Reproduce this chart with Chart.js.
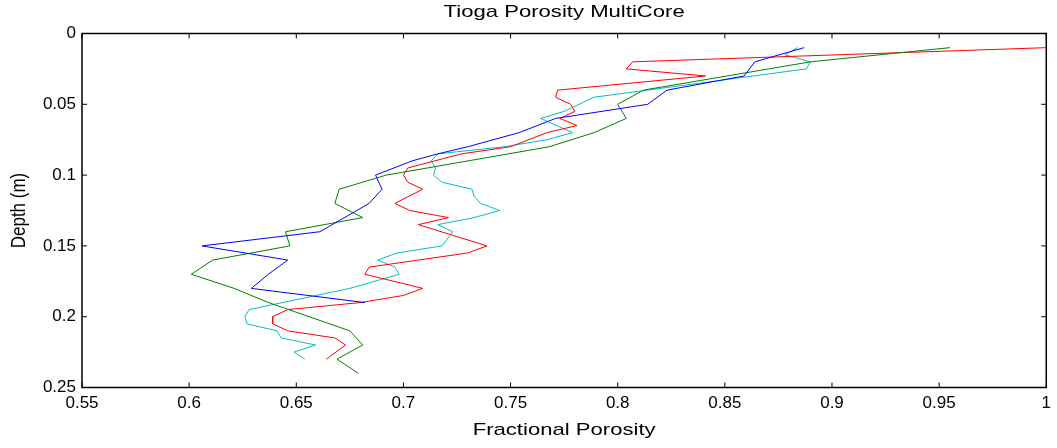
<!DOCTYPE html>
<html>
<head>
<meta charset="utf-8">
<title>Tioga Porosity MultiCore</title>
<script src="https://cdn.jsdelivr.net/npm/chart.js@4/dist/chart.umd.min.js"></script>
<style>
  html, body { margin: 0; padding: 0; background: #fff; }
</style>
</head>
<body>
<canvas id="myChart" width="1057" height="448"></canvas>
<script>
// porosity profiles for each core, depth in metres
const blueDepth = [0.01, 0.02, 0.03, 0.04, 0.05, 0.06, 0.07, 0.08, 0.085, 0.09, 0.1, 0.11, 0.12, 0.14, 0.15, 0.16, 0.17, 0.18, 0.19];
const bluePorosity = [0.887, 0.864, 0.859, 0.823, 0.814, 0.771, 0.754, 0.730, 0.716, 0.704, 0.687, 0.690, 0.684, 0.661, 0.606, 0.646, 0.637, 0.629, 0.682];

const greenDepth = [0.01, 0.02, 0.04, 0.05, 0.06, 0.07, 0.08, 0.1, 0.11, 0.12, 0.13, 0.14, 0.15, 0.16, 0.17, 0.18, 0.19, 0.21, 0.22, 0.23, 0.24];
const greenPorosity = [0.955, 0.890, 0.812, 0.800, 0.804, 0.789, 0.768, 0.692, 0.670, 0.668, 0.681, 0.645, 0.647, 0.611, 0.601, 0.621, 0.637, 0.675, 0.681, 0.669, 0.679];

const redDepth = [0.01, 0.02, 0.025, 0.03, 0.04, 0.045, 0.05, 0.055, 0.06, 0.065, 0.07, 0.08, 0.085, 0.095, 0.1, 0.105, 0.11, 0.12, 0.125, 0.13, 0.135, 0.15, 0.155, 0.165, 0.17, 0.18, 0.185, 0.19, 0.195, 0.2, 0.205, 0.21, 0.215, 0.22, 0.23];
const redPorosity = [1.0, 0.807, 0.804, 0.841, 0.772, 0.771, 0.778, 0.780, 0.773, 0.781, 0.767, 0.750, 0.727, 0.702, 0.700, 0.702, 0.709, 0.696, 0.703, 0.721, 0.707, 0.739, 0.730, 0.684, 0.682, 0.709, 0.700, 0.680, 0.646, 0.639, 0.639, 0.646, 0.668, 0.673, 0.664];

const cyanDepth = [0.01, 0.015, 0.02, 0.025, 0.045, 0.055, 0.06, 0.07, 0.075, 0.08, 0.085, 0.09, 0.095, 0.1, 0.105, 0.11, 0.115, 0.12, 0.125, 0.13, 0.135, 0.14, 0.15, 0.155, 0.16, 0.165, 0.17, 0.18, 0.195, 0.2, 0.205, 0.21, 0.215, 0.22, 0.225, 0.23];
const cyanPorosity = [0.884, 0.878, 0.890, 0.888, 0.789, 0.775, 0.764, 0.779, 0.767, 0.747, 0.716, 0.713, 0.715, 0.714, 0.718, 0.732, 0.733, 0.736, 0.745, 0.733, 0.716, 0.723, 0.718, 0.697, 0.688, 0.696, 0.698, 0.675, 0.628, 0.626, 0.627, 0.641, 0.643, 0.659, 0.649, 0.654];

const xTicks = [0.55, 0.6, 0.65, 0.7, 0.75, 0.8, 0.85, 0.9, 0.95, 1];
const yTicks = [0, 0.05, 0.1, 0.15, 0.2, 0.25];

const FONT = '"Liberation Sans", Arial, sans-serif';

function profile(depth, por) {
  return depth.map((d, i) => ({ x: por[i], y: d }));
}

function series(depth, por, color) {
  return {
    data: profile(depth, por),
    borderColor: color,
    backgroundColor: color,
    borderWidth: 1,
    pointRadius: 0,
    showLine: true,
    tension: 0,
  };
}

function fmt(v) {
  return String(parseFloat(Number(v).toFixed(3)));
}

// text is a bit wide, like a stretched matlab figure
function wideText(ctx, text, x, y, rot) {
  ctx.save();
  ctx.translate(x, y);
  if (rot) {
    ctx.rotate(-Math.PI / 2);
    ctx.scale(1, 1.2);
  } else {
    ctx.scale(1.3, 1);
  }
  ctx.fillText(text, 0, 0);
  ctx.restore();
}

// matlab style box: frame on all sides, ticks pointing inwards, titles
const axesBox = {
  id: 'axesBox',
  afterDraw(chart) {
    const { ctx, chartArea: a, scales } = chart;
    ctx.save();
    ctx.strokeStyle = '#000';
    ctx.lineWidth = 1.5;
    ctx.strokeRect(a.left, a.top, a.right - a.left, a.bottom - a.top);
    ctx.lineWidth = 1;
    ctx.beginPath();
    const tl = 5;
    xTicks.forEach((t) => {
      const px = scales.x.getPixelForValue(t);
      ctx.moveTo(px, a.bottom); ctx.lineTo(px, a.bottom - tl);
      ctx.moveTo(px, a.top); ctx.lineTo(px, a.top + tl);
    });
    yTicks.forEach((t) => {
      const py = scales.y.getPixelForValue(t);
      ctx.moveTo(a.left, py); ctx.lineTo(a.left + tl, py);
      ctx.moveTo(a.right, py); ctx.lineTo(a.right - tl, py);
    });
    ctx.stroke();

    ctx.fillStyle = '#000';
    ctx.font = '17px ' + FONT;
    ctx.textAlign = 'center';
    ctx.textBaseline = 'middle';
    const cx = (a.left + a.right) / 2;
    wideText(ctx, 'Tioga Porosity MultiCore', cx, 12, false);
    wideText(ctx, 'Fractional Porosity', cx, 430, false);
    wideText(ctx, 'Depth (m)', 19, (a.top + a.bottom) / 2, true);
    ctx.restore();
  },
};

const ctx = document.getElementById('myChart').getContext('2d');
const myChart = new Chart(ctx, {
  type: 'scatter',
  data: {
    datasets: [
      series(blueDepth, bluePorosity, '#0000ff'),
      series(greenDepth, greenPorosity, '#008000'),
      series(redDepth, redPorosity, '#ff0000'),
      series(cyanDepth, cyanPorosity, '#00bfbf'),
    ],
  },
  options: {
    responsive: false,
    animation: false,
    layout: { padding: { top: 33.5, right: 9, left: 0, bottom: 0 } },
    plugins: {
      legend: { display: false },
      tooltip: { enabled: false },
      title: { display: false },
    },
    scales: {
      x: {
        type: 'linear',
        min: 0.55,
        max: 1,
        afterFit: (s) => { s.height = 60.5; },
        afterBuildTicks: (s) => { s.ticks = xTicks.map((v) => ({ value: v })); },
        grid: { display: false, drawTicks: false },
        border: { display: false },
        ticks: {
          color: '#000',
          font: { family: FONT, size: 17 },
          padding: 6,
          maxRotation: 0,
          callback: fmt,
        },
      },
      y: {
        type: 'linear',
        reverse: true,
        min: 0,
        max: 0.25,
        afterFit: (s) => { s.width = 82; },
        afterBuildTicks: (s) => { s.ticks = yTicks.map((v) => ({ value: v })); },
        grid: { display: false, drawTicks: false },
        border: { display: false },
        ticks: {
          color: '#000',
          font: { family: FONT, size: 17 },
          padding: 6,
          callback: fmt,
        },
      },
    },
  },
  plugins: [axesBox],
});
</script>
</body>
</html>
